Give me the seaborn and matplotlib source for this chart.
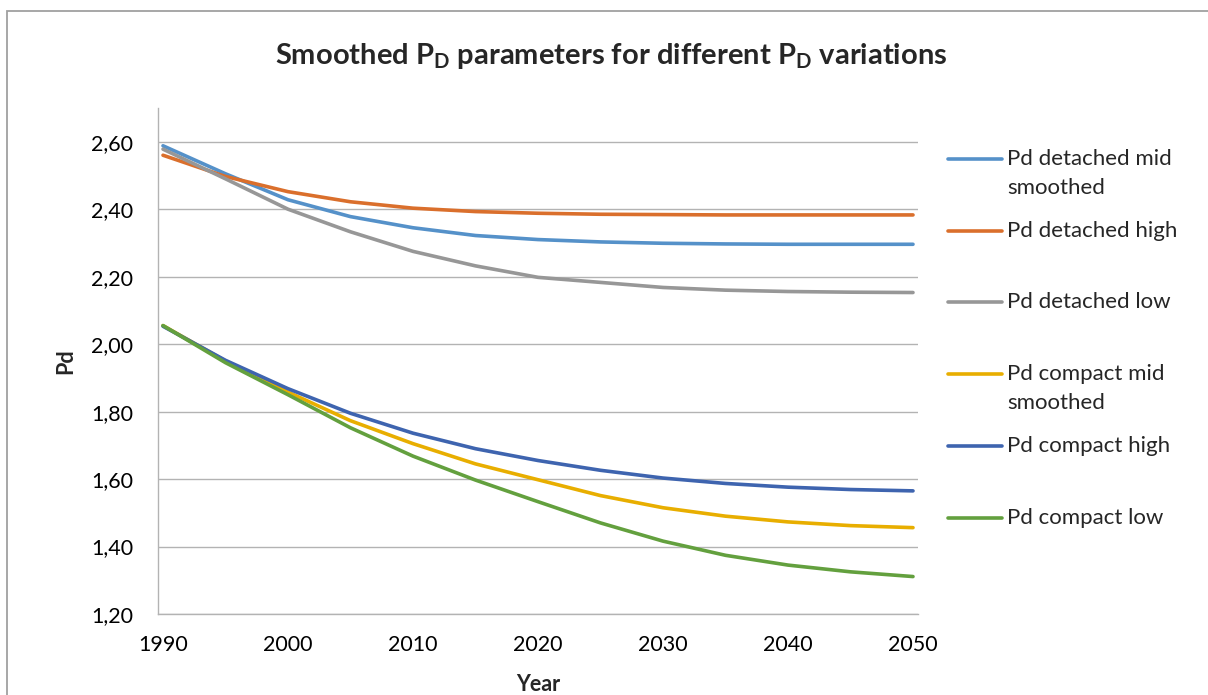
import matplotlib.pyplot as plt
import pandas as pd
import seaborn as sns
from matplotlib.lines import Line2D
from matplotlib.patches import Rectangle

# Values (5-year steps)
years = [1990, 1995, 2000, 2005, 2010, 2015, 2020, 2025, 2030, 2035, 2040, 2045, 2050]

detached_mid = [2.588, 2.505, 2.428, 2.378, 2.345, 2.322, 2.310, 2.303, 2.299, 2.297, 2.296, 2.296, 2.296]
detached_high = [2.560, 2.497, 2.452, 2.422, 2.403, 2.393, 2.388, 2.385, 2.384, 2.383, 2.383, 2.383, 2.383]
detached_low = [2.578, 2.490, 2.400, 2.333, 2.275, 2.232, 2.198, 2.183, 2.168, 2.160, 2.156, 2.154, 2.153]
compact_mid = [2.055, 1.950, 1.858, 1.773, 1.705, 1.645, 1.598, 1.551, 1.515, 1.490, 1.473, 1.462, 1.456]
compact_high = [2.053, 1.952, 1.868, 1.795, 1.736, 1.690, 1.655, 1.626, 1.603, 1.587, 1.576, 1.569, 1.565]
compact_low = [2.055, 1.945, 1.850, 1.752, 1.668, 1.597, 1.533, 1.470, 1.416, 1.374, 1.345, 1.325, 1.311]

series_labels = [
    "Pd detached mid\nsmoothed",
    "Pd detached high",
    "Pd detached low",
    "Pd compact mid\nsmoothed",
    "Pd compact high",
    "Pd compact low",
]
series_values = [detached_mid, detached_high, detached_low, compact_mid, compact_high, compact_low]
colors = ["#5591C9", "#DA6F2C", "#979797", "#E8AE00", "#3E64AF", "#63A03E"]

y_ticks = [1.20, 1.40, 1.60, 1.80, 2.00, 2.20, 2.40, 2.60]
x_ticks = [1990, 2000, 2010, 2020, 2030, 2040, 2050]

# Long format table for seaborn
frames = []
for label, vals in zip(series_labels, series_values):
    frames.append(pd.DataFrame({"Year": years, "Pd": vals, "Series": label}))
df = pd.concat(frames, ignore_index=True)

sns.set_theme(style="white")
plt.rcParams["font.family"] = ["Lato", "DejaVu Sans"]
plt.rcParams["mathtext.fontset"] = "custom"
plt.rcParams["mathtext.rm"] = "Lato:bold"
plt.rcParams["mathtext.bf"] = "Lato:bold"

W, H = 1208, 695
fig = plt.figure(figsize=(W / 100, H / 100), dpi=100)
ax = fig.add_axes([158 / W, 1 - 614 / H, (918 - 158) / W, (614 - 108) / H])

sns.lineplot(
    data=df,
    x="Year",
    y="Pd",
    hue="Series",
    hue_order=series_labels,
    palette=colors,
    linewidth=2.6,
    legend=False,
    ax=ax,
)

ax.set_xlim(1989.6, 2050.4)
ax.set_ylim(1.2, 2.7)
ax.set_xticks(x_ticks)
ax.set_yticks(y_ticks)
ax.set_yticklabels([f"{v:.2f}".replace(".", ",") for v in y_ticks])
ax.tick_params(axis="both", length=0, labelsize=15.5, colors="black")
ax.tick_params(axis="y", pad=18)
ax.tick_params(axis="x", pad=15)

ax.grid(axis="y", color="#B3B3B3", linewidth=1.0)
ax.grid(axis="x", visible=False)
for side in ["top", "right"]:
    ax.spines[side].set_visible(False)
for side in ["left", "bottom"]:
    ax.spines[side].set_color("#B3B3B3")
    ax.spines[side].set_linewidth(1.0)

ax.set_xlabel("Year", fontsize=15.5, fontweight="bold")
ax.set_ylabel("Pd", fontsize=15.5, fontweight="bold")
ax.xaxis.set_label_coords(0.5, -0.118)
ax.yaxis.set_label_coords(-0.108, 0.5)

fig.text(
    611 / W,
    1 - 56 / H,
    r"Smoothed P$_{\mathbf{D}}$ parameters for different P$_{\mathbf{D}}$ variations",
    ha="center",
    va="center",
    fontsize=21,
    fontweight="bold",
)

# Legend on the right, laid out like the Excel one
legend_y = [159, 231, 302, 374, 446, 518]
for label, color, yy in zip(series_labels, colors, legend_y):
    fy = 1 - yy / H
    fig.add_artist(Line2D([948 / W, 1002 / W], [fy, fy], color=color, linewidth=2.6,
                          solid_capstyle="round", transform=fig.transFigure))
    lines = label.split("\n")
    for i, part in enumerate(lines):
        fig.text(1007 / W, fy - i * 29 / H, part, ha="left", va="center", fontsize=16)

# Chart area border
fig.add_artist(Rectangle((7 / W, -0.1), 1.2, 1.1 - 11.5 / H, transform=fig.transFigure,
                         fill=False, edgecolor="#A0A0A0", linewidth=1.3))

fig.savefig("out.png", dpi=100)
